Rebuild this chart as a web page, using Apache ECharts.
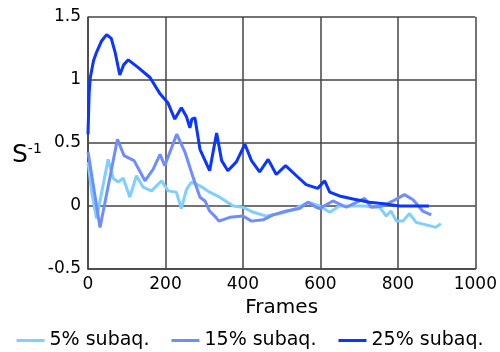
<!DOCTYPE html>
<html><head><meta charset="utf-8">
<script src="https://cdn.jsdelivr.net/npm/echarts@6/dist/echarts.min.js"></script>
<style>html,body{margin:0;padding:0;background:#fff}#c{width:500px;height:352px}</style>
</head><body><div id="c"></div>
<script>
const seriesNames = ['5% subaq.', '15% subaq.', '25% subaq.'];
const xTicks = [0, 200, 400, 600, 800, 1000];
const yTicks = [-0.5, 0, 0.5, 1, 1.5];

const framesLight = [0,10,22,52,65,78,91,108,125,142,164,190,207,228,241,254,267,289,314,340,375,400,427,460,495,529,568,598,624,649,680,710,753,770,782,796,813,830,847,873,898,911];
const valuesLight = [0.35,0.1,-0.1,0.37,0.22,0.19,0.22,0.07,0.24,0.15,0.12,0.20,0.12,0.11,-0.02,0.13,0.19,0.16,0.11,0.07,0.0,-0.01,-0.05,-0.08,-0.06,-0.03,0.03,0.0,-0.05,0.0,0.0,0.0,-0.01,-0.08,-0.04,-0.12,-0.12,-0.06,-0.13,-0.15,-0.17,-0.14];

const framesMid = [0,31,76,93,119,147,168,186,198,229,250,271,289,302,314,327,338,366,400,422,452,478,512,546,568,589,598,632,667,714,731,761,787,817,839,864,886];
const valuesMid = [0.43,-0.17,0.53,0.40,0.36,0.20,0.29,0.41,0.32,0.57,0.43,0.23,0.07,0.04,-0.04,-0.08,-0.12,-0.09,-0.08,-0.12,-0.11,-0.07,-0.04,-0.02,0.03,-0.01,-0.02,0.04,-0.01,0.06,-0.01,0.0,0.04,0.09,0.05,-0.04,-0.07];

const framesDark = [0,3,6,14,22,35,48,60,70,82,92,104,129,160,186,206,224,241,254,263,268,276,289,314,332,345,361,383,405,422,443,465,486,510,538,563,593,611,624,649,684,727,770,804,880];
const valuesDark = [0.57,0.9,1.02,1.15,1.22,1.31,1.36,1.33,1.22,1.04,1.12,1.16,1.10,1.02,0.89,0.82,0.69,0.78,0.71,0.62,0.69,0.70,0.45,0.28,0.58,0.36,0.28,0.35,0.49,0.36,0.27,0.37,0.25,0.32,0.24,0.17,0.14,0.20,0.11,0.08,0.055,0.03,0.015,0.0,0.0];

const colors = ['#7fcfff', '#6f8dff', '#0a36ff'];
const font = '"DejaVu Sans", sans-serif';
function zip(a, b) { return a.map((x, i) => [x, b[i]]); }

const chart = echarts.init(document.getElementById('c'), null, {renderer: 'canvas'});
const gridLine = {show: true, lineStyle: {color: '#444', width: 1.5}};
chart.setOption({
  animation: false,
  grid: {left: 88, right: 23, top: 17, bottom: 83},
  xAxis: {
    type: 'value', min: xTicks[0], max: xTicks[xTicks.length - 1], interval: 200,
    name: 'Frames', nameLocation: 'middle', nameGap: 29,
    nameTextStyle: {fontFamily: font, fontSize: 20, color: '#000'},
    axisLine: {show: true, onZero: false, lineStyle: {color: '#444', width: 1.5}},
    axisTick: {show: false},
    splitLine: gridLine,
    axisLabel: {fontFamily: font, fontSize: 17, color: '#000', margin: 7, formatter: v => String(v)}
  },
  yAxis: {
    type: 'value', min: yTicks[0], max: yTicks[yTicks.length - 1], interval: 0.5,
    axisLine: {show: true, lineStyle: {color: '#444', width: 1.5}},
    axisTick: {show: false},
    splitLine: gridLine,
    axisLabel: {fontFamily: font, fontSize: 17, color: '#000', margin: 7, formatter: v => String(v)}
  },
  legend: {
    top: 331, left: 'center', padding: 0, itemGap: 22, itemWidth: 28, itemHeight: 3, icon: 'rect',
    textStyle: {fontFamily: font, fontSize: 19, color: '#000'},
    data: seriesNames
  },
  graphic: [{
    type: 'text', left: 12, top: 142,
    style: {
      text: '{s|S}{p|-1}',
      rich: {
        s: {fontFamily: font, fontSize: 25, fill: '#000'},
        p: {fontFamily: font, fontSize: 14, fill: '#000', verticalAlign: 'top', padding: [0, 0, 12, 0]}
      }
    }
  }],
  series: [
    {name: seriesNames[0], type: 'line', data: zip(framesLight, valuesLight), showSymbol: false, lineStyle: {color: colors[0], width: 3}, itemStyle: {color: colors[0]}, z: 2},
    {name: seriesNames[1], type: 'line', data: zip(framesMid, valuesMid), showSymbol: false, lineStyle: {color: colors[1], width: 3}, itemStyle: {color: colors[1]}, z: 3},
    {name: seriesNames[2], type: 'line', data: zip(framesDark, valuesDark), showSymbol: false, lineStyle: {color: colors[2], width: 3}, itemStyle: {color: colors[2]}, z: 4}
  ]
});
</script></body></html>
